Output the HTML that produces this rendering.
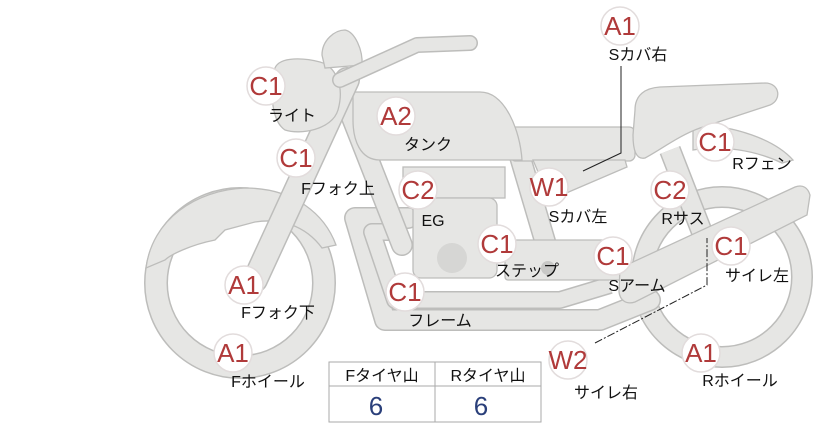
<!DOCTYPE html>
<html><head><meta charset="utf-8"><style>
html,body{margin:0;padding:0;background:#fff;width:822px;height:425px;overflow:hidden}
svg{display:block}
text{font-family:"Liberation Sans","Noto Sans CJK JP",sans-serif}
.c{fill:#fff;stroke:#e2dcdc;stroke-width:1.5}
.b{fill:#b03a3a;font-size:26px;text-anchor:middle}
.l{fill:#111;font-size:16px;text-anchor:middle}
.s{fill:#e6e6e4;stroke:#bdbdbb;stroke-width:1.3}
</style></head><body>
<svg width="822" height="425" viewBox="0 0 822 425">
<!-- front wheel -->
<circle cx="240" cy="283" r="84" fill="none" stroke="#bdbdbb" stroke-width="24"/>
<circle cx="240" cy="283" r="84" fill="none" stroke="#e6e6e4" stroke-width="21"/>
<path class="s" d="M146,268 C152,220 195,190 245,188 C295,188 325,215 336,245 L322,248 C305,225 280,218 255,222 L225,230 L215,240 C190,245 170,255 165,260 Z"/>
<!-- rear wheel -->
<circle cx="722" cy="277" r="80" fill="none" stroke="#bdbdbb" stroke-width="22"/>
<circle cx="722" cy="277" r="80" fill="none" stroke="#e6e6e4" stroke-width="19"/>
<!-- exhaust/frame loops -->
<path d="M408,218 L355,218 L385,320 L600,320 L650,300" fill="none" stroke="#bdbdbb" stroke-width="22" stroke-linejoin="round" stroke-linecap="round"/>
<path d="M408,218 L355,218 L385,320 L600,320 L650,300" fill="none" stroke="#e6e6e4" stroke-width="19" stroke-linejoin="round" stroke-linecap="round"/>
<path d="M395,232 L372,232 L395,300 L560,300 L610,285" fill="none" stroke="#bdbdbb" stroke-width="18" stroke-linejoin="round"/>
<path d="M395,232 L372,232 L395,300 L560,300 L610,285" fill="none" stroke="#e6e6e4" stroke-width="15" stroke-linejoin="round"/>
<!-- downtube -->
<path d="M345,100 L402,245" stroke="#bdbdbb" stroke-width="22" stroke-linecap="round"/>
<path d="M345,100 L402,245" stroke="#e6e6e4" stroke-width="19" stroke-linecap="round"/>
<!-- rear frame -->
<path d="M518,150 L552,265" stroke="#bdbdbb" stroke-width="22"/>
<path d="M518,150 L552,265" stroke="#e6e6e4" stroke-width="19"/>
<rect class="s" x="505" y="240" width="120" height="40" rx="3"/>
<!-- engine -->
<rect class="s" x="403" y="167" width="102" height="31"/>
<rect class="s" x="413" y="198" width="84" height="80" rx="8"/>
<circle cx="452" cy="258" r="15" fill="#d6d6d4"/>
<circle cx="548" cy="268" r="7" fill="#c8c8c6"/>
<!-- side covers -->
<rect class="s" x="510" y="127" width="125" height="34" rx="6"/>
<path class="s" d="M533,160 L625,160 L627,167 L550,200 Z"/>
<!-- rear shock -->
<path d="M670,150 L705,240" stroke="#bdbdbb" stroke-width="22"/>
<path d="M670,150 L705,240" stroke="#e6e6e4" stroke-width="19"/>
<!-- swingarm -->
<path class="s" d="M620,268 L795,187 C803,184 808,188 810,195 L807,215 L635,302 C626,305 620,300 619,292 Z"/>
<!-- rear fender -->
<path class="s" d="M693,125 C735,125 775,140 793,160 L782,163 C755,150 720,145 693,150 Z"/>
<!-- seat -->
<path class="s" d="M635,110 C635,95 645,88 660,87 L765,83 C780,83 782,100 770,105 L700,128 C680,135 660,150 645,158 C636,160 633,150 633,135 Z"/>
<!-- tank -->
<path class="s" d="M353,92 L480,92 C505,92 520,130 522,160 L380,160 C360,160 353,140 353,120 Z"/>
<!-- fork -->
<path d="M347,80 L255,280" stroke="#bdbdbb" stroke-width="26" stroke-linecap="round"/>
<path d="M347,80 L255,280" stroke="#e6e6e4" stroke-width="23" stroke-linecap="round"/>
<!-- headlight -->
<path class="s" d="M275,68 C280,56 305,58 320,62 C335,66 345,85 338,110 C332,130 300,135 285,130 C270,120 270,85 275,68 Z"/>
<!-- meter -->
<path class="s" d="M322,55 C322,40 335,30 345,30 C355,32 363,50 362,65 L325,68 Z"/>
<!-- handlebar -->
<path d="M340,80 L417,45 L470,43" fill="none" stroke="#bdbdbb" stroke-width="16" stroke-linecap="round" stroke-linejoin="round"/>
<path d="M340,80 L417,45 L470,43" fill="none" stroke="#e6e6e4" stroke-width="13" stroke-linecap="round" stroke-linejoin="round"/>
<!-- leader lines -->
<path d="M621,66 L621,153 L583,171" fill="none" stroke="#222" stroke-width="1"/>
<path d="M595,343 L707,285 L707,238" fill="none" stroke="#222" stroke-width="1" stroke-dasharray="8,2,2,2"/>
<!-- table -->
<rect x="329" y="362" width="212" height="60" fill="#fff" stroke="#aaa"/>
<line x1="329" y1="386" x2="541" y2="386" stroke="#aaa"/>
<line x1="435" y1="362" x2="435" y2="422" stroke="#aaa"/>
<text x="382" y="381" class="l">Fタイヤ山</text>
<text x="488" y="381" class="l">Rタイヤ山</text>
<text x="376" y="415" style="fill:#2a3f7a;font-size:26px;text-anchor:middle">6</text>
<text x="481" y="415" style="fill:#2a3f7a;font-size:26px;text-anchor:middle">6</text>
<!-- badges -->
<g>
<circle class="c" cx="620" cy="26" r="19"/><text class="b" x="620" y="35">A1</text><text class="l" x="638" y="60">Sカバ右</text>
<circle class="c" cx="266" cy="86" r="19"/><text class="b" x="266" y="95">C1</text><text class="l" x="292" y="121">ライト</text>
<circle class="c" cx="396" cy="116" r="19"/><text class="b" x="396" y="125">A2</text><text class="l" x="428" y="150">タンク</text>
<circle class="c" cx="715" cy="142" r="19"/><text class="b" x="715" y="151">C1</text><text class="l" x="762" y="169">Rフェン</text>
<circle class="c" cx="296" cy="158" r="19"/><text class="b" x="296" y="167">C1</text><text class="l" x="338" y="194">Fフォク上</text>
<circle class="c" cx="418" cy="190" r="19"/><text class="b" x="418" y="199">C2</text><text class="l" x="433" y="226">EG</text>
<circle class="c" cx="549" cy="187" r="19"/><text class="b" x="549" y="196">W1</text><text class="l" x="578" y="222">Sカバ左</text>
<circle class="c" cx="670" cy="190" r="19"/><text class="b" x="670" y="199">C2</text><text class="l" x="683" y="224">Rサス</text>
<circle class="c" cx="497" cy="244" r="19"/><text class="b" x="497" y="253">C1</text><text class="l" x="527" y="276">ステップ</text>
<circle class="c" cx="613" cy="256" r="19"/><text class="b" x="613" y="265">C1</text><text class="l" x="637" y="291">Sアーム</text>
<circle class="c" cx="731" cy="246" r="19"/><text class="b" x="731" y="255">C1</text><text class="l" x="757" y="281">サイレ左</text>
<circle class="c" cx="244" cy="285" r="19"/><text class="b" x="244" y="294">A1</text><text class="l" x="278" y="318">Fフォク下</text>
<circle class="c" cx="405" cy="292" r="19"/><text class="b" x="405" y="301">C1</text><text class="l" x="440" y="326">フレーム</text>
<circle class="c" cx="568" cy="360" r="19"/><text class="b" x="568" y="369">W2</text><text class="l" x="606" y="398">サイレ右</text>
<circle class="c" cx="233" cy="353" r="19"/><text class="b" x="233" y="362">A1</text><text class="l" x="268" y="387">Fホイール</text>
<circle class="c" cx="701" cy="353" r="19"/><text class="b" x="701" y="362">A1</text><text class="l" x="740" y="386">Rホイール</text>
</g>
</svg>
</body></html>
